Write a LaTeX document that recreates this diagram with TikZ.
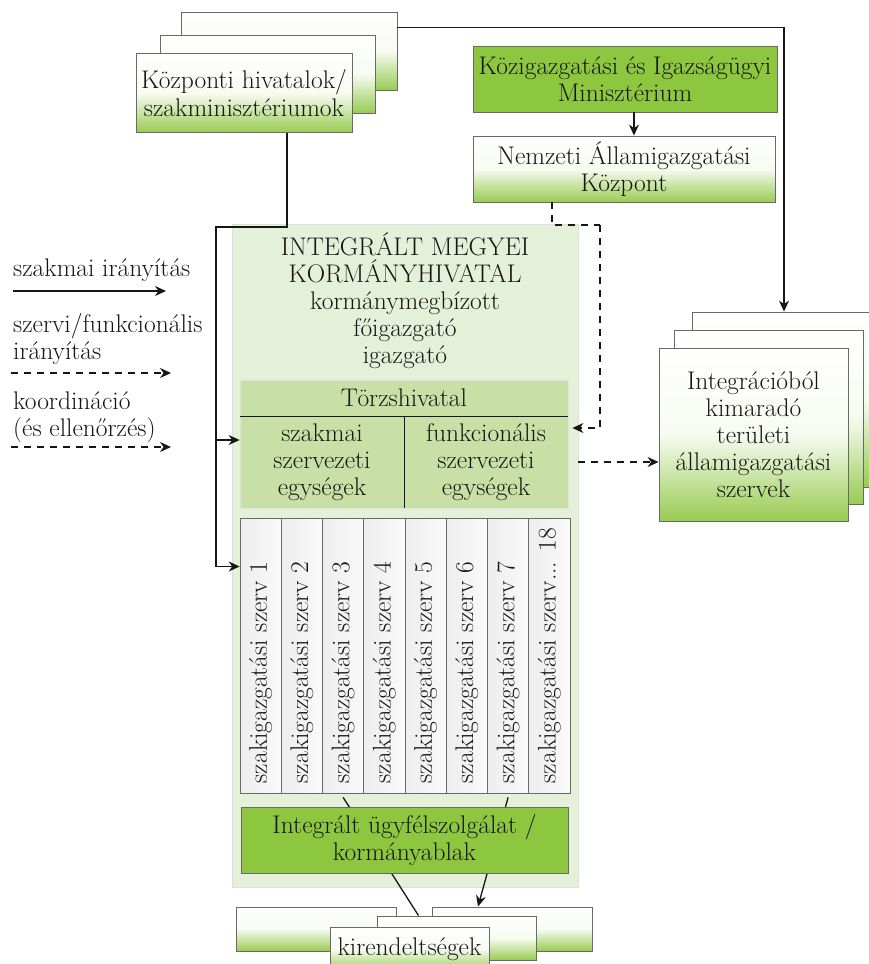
\documentclass[tikz,border=0pt]{standalone}
\usepackage{fontspec}
\usetikzlibrary{arrows.meta}
\definecolor{grn}{RGB}{141,198,63}
\definecolor{panelgrn}{RGB}{229,240,216}
\definecolor{unitgrn}{RGB}{200,224,166}
\definecolor{edge}{RGB}{105,105,105}
\definecolor{ink}{RGB}{22,22,22}
\tikzset{
  txt/.style={text=ink, font=\fontsize{25.5}{27}\selectfont, align=center, inner sep=0pt},
  gbox/.style={txt, draw=edge, line width=0.9pt, top color=white, bottom color=grn!90!white, middle color=white!93!grn},
  solidbox/.style={txt, draw=edge, line width=0.9pt, fill=grn},
  unitbox/.style={txt, draw=black!12, line width=0.8pt, fill=unitgrn},
  colbox/.style={draw=edge, line width=0.7pt, left color=black!7, right color=black!2},
  conn/.style={draw=ink, line width=1.3pt},
  arr/.style={-{Stealth[length=11pt,width=10pt]}},
  dsh/.style={dash pattern=on 7pt off 6pt}
}
\begin{document}
\begin{tikzpicture}[x=1pt,y=-1pt]
\useasboundingbox (0,0) rectangle (868,964);

% central offices (stack of three)
\node[gbox, minimum width=216pt, minimum height=78pt] (kp3) at (289,51) {};
\node[gbox, minimum width=215pt, minimum height=78pt] (kp2) at (267.5,74) {};
\node[gbox, minimum width=216pt, minimum height=79pt, font=\fontsize{25.5}{28}\selectfont] (kp1) at (244,93) {Központi hivatalok/\\szakminisztériumok};

% ministry and national centre
\node[solidbox, minimum width=304pt, minimum height=66pt] (kim) at (625,79) {Közigazgatási és Igazságügyi\\Minisztérium};
\node[gbox, minimum width=302pt, minimum height=66pt] (nak) at (624,169) {Nemzeti Államigazgatási\\Központ};

% bodies outside the integration (stack of three)
\node[gbox, minimum width=190pt, minimum height=175pt] (int3) at (787,399.5) {};
\node[gbox, minimum width=189pt, minimum height=174pt] (int2) at (768.5,417) {};
\node[gbox, minimum width=189pt, minimum height=173pt] (int1) at (753.5,434.5) {Integrációból\\kimaradó\\területi\\államigazgatási\\szervek};

% county government office panel
\node[draw=black!13, line width=0.8pt, fill=panelgrn, minimum width=346pt, minimum height=663pt] (panel) at (405,555.5) {};
\node[txt] (head) at (405,301) {INTEGRÁLT MEGYEI\\KORMÁNYHIVATAL\\kormánymegbízott\\főigazgató\\igazgató};

\node[unitbox, minimum width=328pt, minimum height=36pt] (torzs) at (404,398) {Törzshivatal};
\node[unitbox, minimum width=164pt, minimum height=92pt] (szak) at (322,462) {szakmai\\szervezeti\\egységek};
\node[unitbox, minimum width=164pt, minimum height=92pt] (funk) at (486,462) {funkcionális\\szervezeti\\egységek};
\draw[line width=1.6pt, draw=ink] (torzs.south west) -- (torzs.south east);
\draw[line width=1.6pt, draw=ink] (szak.north east) -- (szak.south east);

% specialised administrative bodies
\foreach \i in {1,...,8}{
  \node[colbox, minimum width=41.25pt, minimum height=275pt, inner sep=0pt] (c\i) at ({240+(\i-0.5)*41.25},655.5) {};
}
\foreach \i in {1,...,7}{
  \node[txt, rotate=90, anchor=west] (t\i) at ([yshift=10pt]c\i.south) {szakigazgatási szerv \i};
}
\node[txt, rotate=90, anchor=west] (t8) at ([yshift=10pt]c8.south) {szakigazgatási szerv... 18};

% branch offices (stack)
\node[gbox, minimum width=160pt, minimum height=44pt] (krl) at (316,929) {};
\node[gbox, minimum width=160pt, minimum height=44pt] (krr) at (512,929) {};
\node[gbox, minimum width=159pt, minimum height=44pt] (kmid) at (456.5,938) {};
\node[gbox, minimum width=159pt, minimum height=44pt] (kfr) at (409.5,949) {kirendeltségek};

% links from the bodies to the branch offices (pass behind the service box)
\draw[conn] ([yshift=-4pt]c3.south) -- ([xshift=-38pt]kmid.north);
\draw[conn, arr] ([yshift=-4pt]c7.south) -- ([xshift=-34pt]krr.north);

\node[solidbox, minimum width=327pt, minimum height=66pt] (ugyf) at (404.5,840) {Integrált ügyfélszolgálat /\\kormányablak};

% professional direction
\coordinate (lc1) at (216,227);
\coordinate (lb) at (216,440);
\draw[conn, arr] ([xshift=43pt]kp1.south) |- (lc1) |- ([yshift=89pt]c1.west);
\draw[conn, arr] (lb) -- (lb -| szak.west);
\draw[conn, arr] ([yshift=-16pt]kp3.north east) -| ([xshift=-3pt]int3.north);
\draw[conn, arr] ([xshift=9pt]kim.south) -- ([xshift=9pt]kim.south |- nak.north);

% functional direction and coordination
\coordinate (dc) at (600,225);
\draw[conn, dsh] ([xshift=-72pt]nak.south) |- (dc);
\draw[conn, dsh, arr] (dc) |- ([xshift=4pt,yshift=34pt]funk.east);
\draw[conn, dsh, arr] (panel.east |- funk.east) -- (int1.west |- funk.east);

% legend
\node[txt, anchor=west] (lg1) at (13,270) {szakmai irányítás};
\coordinate (l1a) at (13,291);
\coordinate (l1b) at (166,291);
\draw[conn, arr] (l1a) -- (l1b);
\node[txt, anchor=west, align=left] (lg2) at (13,339) {szervi/funkcionális\\irányítás};
\coordinate (l2a) at (11,373);
\coordinate (l2b) at (171,373);
\draw[conn, dsh, arr] (l2a) -- (l2b);
\node[txt, anchor=west, align=left] (lg3) at (13,417) {koordináció\\(és ellenőrzés)};
\coordinate (l3a) at (11,447);
\coordinate (l3b) at (171,447);
\draw[conn, dsh, arr] (l3a) -- (l3b);
\end{tikzpicture}
\end{document}
